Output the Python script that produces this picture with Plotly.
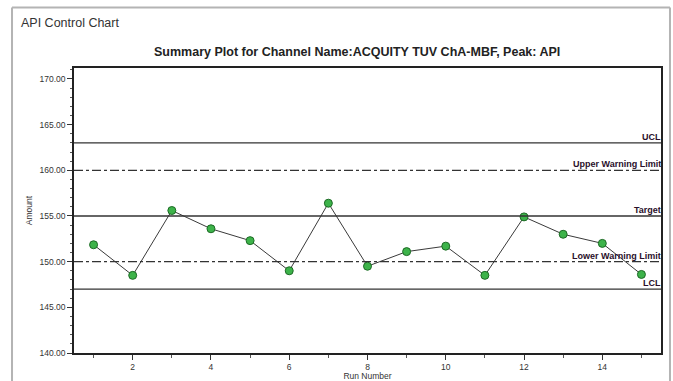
import plotly.graph_objects as go

run_number = list(range(1, 16))
amount = [151.85, 148.5, 155.6, 153.6, 152.3, 149.0, 156.4, 149.5, 151.1, 151.7, 148.5, 154.9, 153.0, 152.0, 148.6]

limit_names = ["UCL", "Upper Warning Limit", "Target", "Lower Warning Limit", "LCL"]
limit_values = [163.0, 160.0, 155.0, 150.0, 147.0]
limit_dash = ["solid", "dashdot", "solid", "dashdot", "solid"]

y_ticks = [140, 145, 150, 155, 160, 165, 170]
x_ticks = [2, 4, 6, 8, 10, 12, 14]

fig = go.Figure()
fig.add_trace(go.Scatter(
    x=run_number, y=amount, mode="lines+markers",
    line=dict(color="#3a3a3a", width=1),
    marker=dict(size=8, color="#3db34a", line=dict(color="#1d6a25", width=1)),
    showlegend=False, cliponaxis=False,
))

for name, val, dash in zip(limit_names, limit_values, limit_dash):
    fig.add_shape(type="line", xref="paper", x0=0, x1=1, yref="y", y0=val, y1=val,
                  line=dict(color="#333333", width=1.3, dash=dash))
    fig.add_annotation(x=1, xref="paper", y=val, yref="y", text=name, showarrow=False,
                       xanchor="right", yanchor="bottom", xshift=2, yshift=-1,
                       font=dict(family="Liberation Sans Narrow, Arial Narrow, Liberation Sans", size=9,
                                 color="#2a0f2a", weight="bold"))

# outer panel frame
frame = dict(color="#b4b4b4", width=2)
fig.add_shape(type="line", xref="paper", yref="paper", x0=-0.1056, x1=1.0153, y0=1.212, y1=1.212, line=frame)
fig.add_shape(type="line", xref="paper", yref="paper", x0=-0.1056, x1=-0.1056, y0=-0.2, y1=1.212, line=frame)
fig.add_shape(type="line", xref="paper", yref="paper", x0=1.0153, x1=1.0153, y0=-0.2, y1=1.212, line=frame)

fig.add_annotation(x=-0.094, xref="paper", y=1.159, yref="paper", text="API Control Chart",
                   showarrow=False, xanchor="left", yanchor="middle",
                   font=dict(family="Liberation Sans, Arial", size=12.5, color="#333333"))
fig.add_annotation(x=0.482, xref="paper", y=1.056, yref="paper",
                   text="<b>Summary Plot for Channel Name:ACQUITY TUV ChA-MBF, Peak: API</b>",
                   showarrow=False, xanchor="center", yanchor="middle",
                   font=dict(family="Liberation Sans Narrow, Arial Narrow, Liberation Sans", size=12.5, color="#222222"))

axis_font = dict(family="Liberation Sans Narrow, Arial Narrow, Liberation Sans", size=8.5, color="#333333")
fig.update_xaxes(range=[0.5, 15.5], tickvals=x_ticks, ticktext=[str(t) for t in x_ticks],
                 ticks="outside", ticklen=5, tickcolor="#333", tickwidth=1,
                 minor=dict(tickvals=[1, 3, 5, 7, 9, 11, 13, 15], ticks="outside", ticklen=3, tickcolor="#555"),
                 showgrid=False, zeroline=False, showline=True, linecolor="#222", linewidth=1.5, mirror=True,
                 tickfont=axis_font, automargin=False,
                 title=dict(text="Run Number", font=axis_font, standoff=1))
fig.update_yaxes(range=[140, 171.2], tickvals=y_ticks, ticktext=[f"{t:.2f}" for t in y_ticks],
                 ticks="outside", ticklen=5, tickcolor="#333", tickwidth=1,
                 minor=dict(dtick=1, ticks="outside", ticklen=2, tickcolor="#555"),
                 showgrid=False, zeroline=False, showline=True, linecolor="#222", linewidth=1.5, mirror=True,
                 tickfont=axis_font, automargin=False,
                 title=dict(text="Amount", font=axis_font, standoff=6))

fig.update_layout(width=673, height=381, margin=dict(l=74, r=12, t=68, b=28),
                  paper_bgcolor="white", plot_bgcolor="white")
fig.write_html("out.html", config={"displayModeBar": False},
               post_script="document.body.style.margin='0';document.body.style.padding='0';")
